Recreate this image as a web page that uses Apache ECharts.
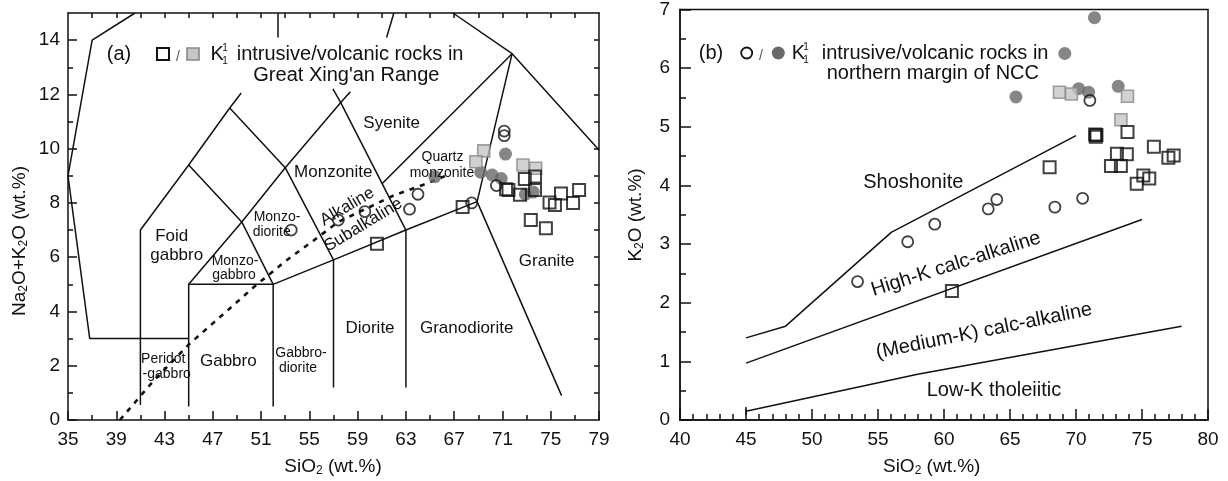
<!DOCTYPE html>
<html>
<head>
<meta charset="utf-8">
<script src="https://cdn.jsdelivr.net/npm/echarts@6/dist/echarts.min.js"></script>
<style>html,body{margin:0;padding:0;background:#fff;}</style>
</head>
<body>
<div id="main" style="width:1228px;height:481px;"></div>
<script>
// ---------- tick labels ----------
var xTicksA = [35, 39, 43, 47, 51, 55, 59, 63, 67, 71, 75, 79];
var yTicksA = [0, 2, 4, 6, 8, 10, 12, 14];

// ---------- (a) TAS data: SiO2, Na2O+K2O ----------
var gxrIntrusiveA = [[60.6,6.5],[67.7,7.85],[71.3,8.5],[71.5,8.48],[72.45,8.3],[72.85,8.88],[73.7,8.97],[73.7,8.48],
  [74.9,8.02],[75.35,7.92],[75.85,8.35],[76.85,8.0],[77.35,8.48],[73.35,7.37],[74.6,7.07]];
var gxrVolcanicA = [[69.45,9.92],[68.8,9.52],[72.7,9.4],[73.75,9.28]];
var nccIntrusiveA = [[53.5,7.0],[57.4,7.37],[59.6,7.68],[63.3,7.77],[64.0,8.32],[68.45,8.0],[70.5,8.64],[71.15,10.65],[71.15,10.48]];
var nccVolcanicA = [[65.4,8.97],[69.2,9.13],[70.15,9.03],[70.9,8.9],[71.25,9.8],[72.9,8.32],[73.55,8.4]];

// ---------- (b) K2O vs SiO2 data ----------
var gxrIntrusiveB = [[60.6,2.2],[68.0,4.31],[71.45,4.87],[71.5,4.83],[71.55,4.86],[73.9,4.91],[73.1,4.54],[73.85,4.53],
  [72.65,4.33],[73.4,4.33],[75.9,4.66],[77.0,4.47],[77.4,4.51],[74.6,4.03],[75.1,4.17],[75.55,4.12]];
var gxrVolcanicB = [[68.75,5.59],[69.65,5.56],[73.9,5.52],[73.4,5.12]];
var nccIntrusiveB = [[53.45,2.36],[57.25,3.04],[59.3,3.34],[63.35,3.6],[64.0,3.76],[68.4,3.63],[70.5,3.78],[71.05,5.45]];
var nccVolcanicB = [[71.4,6.86],[69.15,6.25],[65.45,5.51],[70.2,5.65],[70.95,5.59],[73.2,5.69]];

// ---------- (a) field boundaries ----------
var tasOuter = [[40.55,15],[37,14],[35,9],[36.8,3],[45,3]];
var tasFoidGabbro = [[41,0.55],[41,7],[45,9.4],[48.4,11.5],[49.35,12.05]];
var tasMonzogabbroTop = [[45,9.4],[49.4,7.3],[52,5]];
var tasGabbroLeft = [[45,0.5],[45,5],[49.4,7.3]];
var tasGabbroTop = [[45,5],[52,5]];
var tasSubalkTop = [[52,0.5],[52,5],[57,5.9],[63,7],[68.9,8.05]];
var tasDioriteLeft = [[57,1.2],[57,5.9]];
var tasGranodioriteLeft = [[63,1.2],[63,7]];
var tasMonzodiorite = [[48.4,11.5],[53,9.3],[57,5.9]];
var tasMonzoniteLeft = [[49.4,7.3],[53,9.3],[57.6,11.7],[58.4,12.1]];
var tasMonzoniteRight = [[56.95,12.2],[57.6,11.7],[63,7]];
var tasQuartzMonzonite = [[61,8.7],[71.8,13.5]];
var tasGraniteTop = [[66.9,15],[71.8,13.5],[79,9.95]];
var tasGraniteLeft = [[71.8,13.5],[68.9,8.05],[75.9,0.9]];
var tasStubLeft = [[52.4,14.1],[52.4,15]];
var tasStubRight = [[61.4,14.1],[62,15]];
var alkalineDivide = [[39.3,0],[42,1.4],[45,2.78],[48,3.95],[50.4,4.9],[53,5.85],[55.3,6.6],[57.4,7.3],[60,7.85],[62,8.28],[64.4,8.66],[66.3,9.0]];

// ---------- (b) series boundaries ----------
var shoshoniteLine = [[45,1.4],[48,1.6],[56,3.2],[70,4.85]];
var highKLine = [[45,0.97],[75,3.42]];
var lowKLine = [[45,0.15],[58,0.78],[78,1.6]];
var lowKStub = [[45,0.08],[45,0.22]];

// derived minor tick positions for panel (a)
var xMinorA = [], xTopA = [], yMinorA = [], yRightA = [];
for (var i = 0; i < xTicksA.length - 1; i++) xMinorA.push((xTicksA[i] + xTicksA[i + 1]) / 2);
for (var v = 37; v <= 77; v += 2) xTopA.push(v);
for (var j = 0; j < yTicksA.length - 1; j++) yMinorA.push((yTicksA[j] + yTicksA[j + 1]) / 2);
for (var k = 1; k <= 14; k++) yRightA.push(k);

var FONT = 'Liberation Sans';
var INK = '#111';
var tickLine = {color: INK, width: 1.5};
var axisLine = {show: true, onZero: false, lineStyle: {color: INK, width: 1.5}};
var labelStyle = {color: '#111', fontSize: 19, fontFamily: FONT};

function lineSeries(pts, panel, extra) {
  var ax = panel === 'a' ? 0 : 3;
  return {
    type: 'line', xAxisIndex: ax, yAxisIndex: ax, data: pts, symbol: 'none',
    silent: true, animation: false, clip: true, z: 2,
    lineStyle: Object.assign({color: INK, width: 1.5}, extra || {})
  };
}

function pointSeries(pts, panel, kind) {
  var ax = panel === 'a' ? 0 : 3;
  var s = {type: 'scatter', xAxisIndex: ax, yAxisIndex: ax, data: pts, silent: true, animation: false, z: 3};
  if (kind === 'openSquare') {
    s.symbol = 'rect'; s.symbolSize = 12;
    s.itemStyle = {color: 'rgba(0,0,0,0)', borderColor: INK, borderWidth: 2};
  } else if (kind === 'graySquare') {
    s.symbol = 'rect'; s.symbolSize = 12;
    s.itemStyle = {color: '#c6c6c6', borderColor: '#888', borderWidth: 1.6};
  } else if (kind === 'openCircle') {
    s.symbol = 'circle'; s.symbolSize = 11;
    s.itemStyle = {color: 'rgba(0,0,0,0)', borderColor: INK, borderWidth: 1.8};
  } else {
    s.symbol = 'circle'; s.symbolSize = 13;
    s.itemStyle = {color: '#686868'};
  }
  return s;
}

function txt(x, y, str, size, opts) {
  opts = opts || {};
  return {
    type: 'text', x: x, y: y, rotation: opts.rot || 0, silent: true, z: 10,
    style: {
      text: str, fontSize: size, fontFamily: FONT, fill: opts.fill || INK,
      align: opts.align || 'center', verticalAlign: 'middle',
      rich: {s: {fontSize: 12, fontFamily: FONT, fill: INK, verticalAlign: 'bottom'}}
    }
  };
}

var chart = echarts.init(document.getElementById('main'));

var option = {
  animation: false,
  grid: [
    {left: 68, top: 13, width: 531, height: 407},
    {left: 68, top: 13, width: 531, height: 407},
    {left: 680, top: 9, width: 528, height: 411, show: true, borderColor: INK, borderWidth: 1.5}
  ],
  xAxis: [
    {gridIndex: 0, type: 'value', min: 35, max: 79, position: 'bottom', axisLine: axisLine,
      axisTick: {inside: true, length: 9, customValues: xTicksA, lineStyle: tickLine},
      axisLabel: Object.assign({customValues: xTicksA, margin: 10}, labelStyle), splitLine: {show: false}},
    {gridIndex: 0, type: 'value', min: 35, max: 79, position: 'top', axisLine: axisLine,
      axisTick: {inside: true, length: 5, customValues: xTopA, lineStyle: tickLine},
      axisLabel: {show: false}, splitLine: {show: false}},
    {gridIndex: 1, type: 'value', min: 35, max: 79, position: 'bottom', axisLine: {show: false},
      axisTick: {inside: true, length: 5, customValues: xMinorA, lineStyle: tickLine},
      axisLabel: {show: false}, splitLine: {show: false}},
    {gridIndex: 2, type: 'value', min: 40, max: 80, interval: 5, position: 'bottom', axisLine: axisLine,
      axisTick: {inside: true, length: 11, lineStyle: tickLine},
      minorTick: {show: true, splitNumber: 5, length: 6, lineStyle: tickLine},
      axisLabel: Object.assign({margin: 10}, labelStyle), splitLine: {show: false}}
  ],
  yAxis: [
    {gridIndex: 0, type: 'value', min: 0, max: 15, position: 'left', axisLine: axisLine,
      axisTick: {inside: true, length: 9, customValues: yTicksA, lineStyle: tickLine},
      axisLabel: Object.assign({customValues: yTicksA, margin: 8}, labelStyle), splitLine: {show: false}},
    {gridIndex: 0, type: 'value', min: 0, max: 15, position: 'right', axisLine: axisLine,
      axisTick: {inside: true, length: 5, customValues: yRightA, lineStyle: tickLine},
      axisLabel: {show: false}, splitLine: {show: false}},
    {gridIndex: 1, type: 'value', min: 0, max: 15, position: 'left', axisLine: {show: false},
      axisTick: {inside: true, length: 5, customValues: yMinorA, lineStyle: tickLine},
      axisLabel: {show: false}, splitLine: {show: false}},
    {gridIndex: 2, type: 'value', min: 0, max: 7, interval: 1, position: 'left', axisLine: axisLine,
      axisTick: {inside: true, length: 11, lineStyle: tickLine},
      minorTick: {show: true, splitNumber: 2, length: 6, lineStyle: tickLine},
      axisLabel: Object.assign({margin: 10}, labelStyle), splitLine: {show: false}}
  ],
  series: [
    lineSeries(tasOuter, 'a'), lineSeries(tasFoidGabbro, 'a'), lineSeries(tasMonzogabbroTop, 'a'),
    lineSeries(tasGabbroLeft, 'a'), lineSeries(tasGabbroTop, 'a'), lineSeries(tasSubalkTop, 'a'),
    lineSeries(tasDioriteLeft, 'a'), lineSeries(tasGranodioriteLeft, 'a'), lineSeries(tasMonzodiorite, 'a'),
    lineSeries(tasMonzoniteLeft, 'a'), lineSeries(tasMonzoniteRight, 'a'), lineSeries(tasQuartzMonzonite, 'a'),
    lineSeries(tasGraniteTop, 'a'), lineSeries(tasGraniteLeft, 'a'), lineSeries(tasStubLeft, 'a'),
    lineSeries(tasStubRight, 'a'),
    lineSeries(alkalineDivide, 'a', {width: 2.6, type: [5, 6]}),
    lineSeries(shoshoniteLine, 'b'), lineSeries(highKLine, 'b'), lineSeries(lowKLine, 'b'), lineSeries(lowKStub, 'b'),

    pointSeries(nccVolcanicA, 'a', 'grayCircle'),
    pointSeries(gxrVolcanicA, 'a', 'graySquare'),
    pointSeries(nccIntrusiveA, 'a', 'openCircle'),
    pointSeries(gxrIntrusiveA, 'a', 'openSquare'),
    pointSeries(nccVolcanicB, 'b', 'grayCircle'),
    pointSeries(gxrVolcanicB, 'b', 'graySquare'),
    pointSeries(nccIntrusiveB, 'b', 'openCircle'),
    pointSeries(gxrIntrusiveB, 'b', 'openSquare')
  ],
  graphic: [
    // panel (a) legend
    txt(119, 54, '(a)', 20),
    {type: 'rect', silent: true, shape: {x: 157, y: 48, width: 12, height: 12}, style: {fill: 'none', stroke: INK, lineWidth: 2}},
    txt(178, 57, '/', 14, {fill: '#555'}),
    {type: 'rect', silent: true, shape: {x: 187, y: 48, width: 12, height: 12}, style: {fill: '#c6c6c6', stroke: '#888', lineWidth: 1.6}},
    txt(210.5, 54, 'K', 20, {align: 'left'}),
    txt(225, 48, '1', 10), txt(225, 61, '1', 10),
    txt(236.7, 54, 'intrusive/volcanic rocks in', 20, {align: 'left'}),
    txt(253.3, 75, "Great Xing'an Range", 20, {align: 'left'}),

    // panel (a) field names
    txt(391.7, 123.3, 'Syenite', 17),
    txt(333.3, 172.3, 'Monzonite', 17),
    txt(442.5, 156.7, 'Quartz', 14), txt(442, 172.7, 'monzonite', 14),
    txt(277, 216.7, 'Monzo-', 14), txt(271.7, 231.7, 'diorite', 14),
    txt(171.7, 236.7, 'Foid', 17), txt(176.7, 255, 'gabbro', 17),
    txt(235, 260.7, 'Monzo-', 14), txt(234, 275, 'gabbro', 14),
    txt(347.3, 206.7, 'Alkaline', 17, {rot: 0.536}),
    txt(363.3, 225, 'Subalkaline', 17, {rot: 0.546}),
    txt(546.7, 261.7, 'Granite', 17),
    txt(370, 328, 'Diorite', 17),
    txt(466.7, 328, 'Granodiorite', 17),
    txt(228.3, 361.7, 'Gabbro', 17),
    txt(163.3, 359.3, 'Peridot', 14), txt(166.7, 374, '-gabbro', 14),
    txt(301, 353.3, 'Gabbro-', 14), txt(298, 368.3, 'diorite', 14),

    // panel (a) axis titles
    txt(333, 467, 'SiO{s|2} (wt.%)', 19),
    txt(20, 241, 'Na{s|2}O+K{s|2}O (wt.%)', 19, {rot: Math.PI / 2}),

    // panel (b) legend
    txt(711, 53, '(b)', 20),
    {type: 'circle', silent: true, shape: {cx: 746.7, cy: 53, r: 5.5}, style: {fill: 'none', stroke: INK, lineWidth: 1.8}},
    txt(761, 56, '/', 14, {fill: '#555'}),
    {type: 'circle', silent: true, shape: {cx: 778.3, cy: 53, r: 6.5}, style: {fill: '#686868'}},
    txt(791.7, 53, 'K', 20, {align: 'left'}),
    txt(806, 47, '1', 10), txt(806, 60, '1', 10),
    txt(821.7, 53, 'intrusive/volcanic rocks in', 20, {align: 'left'}),
    txt(826.7, 73, 'northern margin of NCC', 20, {align: 'left'}),

    // panel (b) series names
    txt(913.3, 182.3, 'Shoshonite', 20),
    txt(956, 264, 'High-K calc-alkaline', 20, {rot: 0.307}),
    txt(984, 331, '(Medium-K) calc-alkaline', 20, {rot: 0.2}),
    txt(994, 390, 'Low-K tholeiitic', 20),

    // panel (b) axis titles
    txt(931.7, 467, 'SiO{s|2} (wt.%)', 19),
    txt(636, 215, 'K{s|2}O (wt.%)', 19, {rot: Math.PI / 2})
  ]
};

chart.setOption(option);
</script>
</body>
</html>
